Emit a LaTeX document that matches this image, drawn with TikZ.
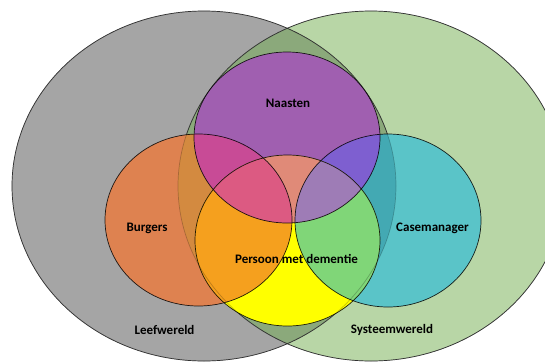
\documentclass[tikz,border=0pt]{standalone}
\usepackage{fontspec}
\setmainfont{Carlito}
\definecolor{cGray}{HTML}{A5A5A5}
\definecolor{cGreenL}{HTML}{B8D6A6}
\definecolor{cGreenD}{HTML}{8BA97B}
\definecolor{cN}{HTML}{A05FB0}
\definecolor{cB}{HTML}{DE8250}
\definecolor{cBg}{HTML}{D38A40}
\definecolor{cCl}{HTML}{5AC4C8}
\definecolor{cCd}{HTML}{43A9B3}
\definecolor{cNB}{HTML}{C84B96}
\definecolor{cNC}{HTML}{7E5FD0}
\definecolor{cP}{HTML}{FFFF00}
\definecolor{cPB}{HTML}{F5A01E}
\definecolor{cPC}{HTML}{80D678}
\definecolor{cPN}{HTML}{E08A78}
\definecolor{cPNB}{HTML}{DC5A82}
\definecolor{cPNC}{HTML}{9E7CB6}
\begin{document}
\begin{tikzpicture}[x=1pt,y=-1pt,
  lbl/.style={font=\bfseries\fontsize{13}{15}\selectfont, text=black, inner sep=0pt},
  bigline/.style={draw=black!75, line width=0.7pt},
  faintline/.style={draw=black, draw opacity=0.22, line width=0.7pt},
  ringline/.style={draw=black, draw opacity=0.85, line width=0.7pt}]
\def\eGray{(204,186) ellipse [x radius=192pt, y radius=175pt]}
\def\eGreen{(371,186) ellipse [x radius=193pt, y radius=175pt]}
\def\eN{(287,137.5) ellipse [x radius=93pt, y radius=85.5pt]}
\def\eB{(198.5,220) ellipse [x radius=93.5pt, y radius=86pt]}
\def\eC{(388,220.5) ellipse [x radius=93pt, y radius=86.5pt]}
\def\eP{(287.5,240.5) ellipse [x radius=92.5pt, y radius=85.5pt]}
\useasboundingbox (0,0) rectangle (545,362);
\fill[white] (0,0) rectangle (545,362);
\clip (0,0) rectangle (545,362);
% big circles
\fill[cGray] \eGray;
\fill[cGreenL] \eGreen;
\begin{scope}\clip \eGray; \fill[cGreenD] \eGreen; \end{scope}
\path[bigline] \eGray;
\path[bigline] \eGreen;
% Burgers
\fill[cB] \eB;
\begin{scope}\clip \eB; \fill[cBg] \eGreen; \end{scope}
% Casemanager
\fill[cCl] \eC;
\begin{scope}\clip \eC; \fill[cCd] \eGray; \end{scope}
% Naasten
\fill[cN] \eN;
\begin{scope}\clip \eN; \fill[cNB] \eB; \end{scope}
\begin{scope}\clip \eN; \fill[cNC] \eC; \end{scope}
% Persoon
\fill[cP] \eP;
\begin{scope}\clip \eP; \fill[cPB] \eB; \end{scope}
\begin{scope}\clip \eP; \fill[cPC] \eC; \end{scope}
\begin{scope}\clip \eP; \fill[cPN] \eN; \end{scope}
\begin{scope}\clip \eP; \clip \eN; \fill[cPNB] \eB; \end{scope}
\begin{scope}\clip \eP; \clip \eN; \fill[cPNC] \eC; \end{scope}
% faint outlines through the coloured rings
\path[faintline] \eGray;
\path[faintline] \eGreen;
% ring outlines
\path[ringline] \eB;
\path[ringline] \eC;
\path[ringline] \eP;
\path[ringline] \eN;
% labels
\node[lbl] (naasten) at (288,103) {Naasten};
\node[lbl] (burgers) at (147,228) {Burgers};
\node[lbl] (casemanager) at (432.5,228) {Casemanager};
\node[lbl] (persoon) at (296.5,259) {Persoon met dementie};
\node[lbl] (leefwereld) at (164.5,330) {Leefwereld};
\node[lbl] (systeemwereld) at (392,330) {Systeemwereld};
\end{tikzpicture}
\end{document}
